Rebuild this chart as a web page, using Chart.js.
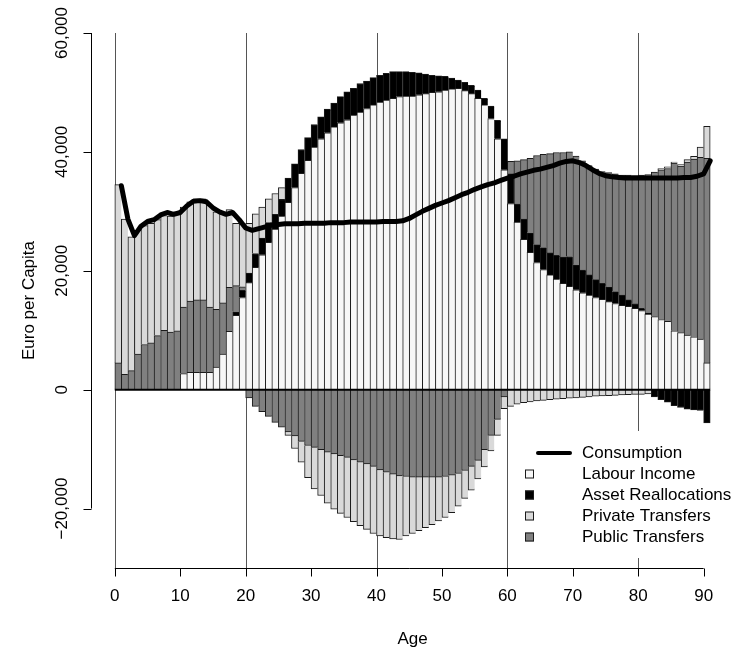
<!DOCTYPE html>
<html>
<head>
<meta charset="utf-8">
<script src="https://cdn.jsdelivr.net/npm/chart.js@4"></script>
<style>
  html, body { margin: 0; padding: 0; background: #fff; }
  #wrap { width: 736px; height: 649px; position: relative; }
</style>
</head>
<body>
<div id="wrap"><canvas id="myChart"></canvas></div>
<script>
// one value per age 0..90
const labourIncome = [
  0, 0, 0, 0, 0, 0, 0, 0, 0, 0,
  2700, 2900, 2900, 2900, 2900, 3800, 6000, 9800, 12500, 15500,
  18000, 20600, 22700, 24800, 27000, 29200, 31500, 34000, 36400, 38600,
  40800, 42200, 43200, 44200, 44900, 45400, 46200, 46700, 47300, 47900,
  48400, 48700, 49000, 49300, 49400, 49400, 49600, 49800, 50000, 50100,
  50400, 50600, 50700, 50300, 49800, 49000, 47900, 45600, 42200, 37000,
  31300, 28200, 25300, 23100, 21400, 20200, 19300, 18600, 17900, 17400,
  16800, 16300, 15900, 15500, 15200, 14800, 14500, 14200, 14000, 13700,
  13300, 12700, 12300, 11800, 11500, 9900, 9600, 9200, 8900, 8500,
  4500
];
const assetReallocations = [
  0, 0, 0, 0, 0, 0, 0, 0, 0, 0,
  0, 0, 0, 0, 0, 0, 0, 0, 600, 1200,
  1600, 2300, 2800, 3300, 2500, 2800, 4100, 4000, 4000, 3800,
  3800, 3700, 4000, 4000, 4400, 4700, 4500, 4800, 4600, 4600,
  4500, 4500, 4500, 4200, 4100, 4000, 3700, 3300, 2900, 2700,
  2300, 1800, 1400, 1400, 1400, 1400, 1100, 2100, 3100, 5200,
  5000, 3000, 3400, 3300, 3000, 3700, 3700, 4000, 4400, 5000,
  4200, 3800, 3400, 3000, 2700, 2500, 2000, 1700, 1100, 800,
  400, 200, -1200, -1700, -2100, -2700, -3000, -3300, -3400, -3500,
  -5600
];
const publicTransfers = [
  4500, 2600, 3200, 6000, 7600, 7900, 9100, 10000, 9700, 9900,
  11200, 12000, 12200, 12200, 11000, 9700, 8600, 7400, 4400, 600,
  -1400, -2800, -3700, -4500, -5500, -6300, -7100, -7800, -8700, -9400,
  -9700, -10100, -10500, -10800, -11100, -11400, -11800, -12200, -12500, -12900,
  -13500, -13900, -14200, -14500, -14600, -14700, -14700, -14700, -14700, -14700,
  -14600, -14400, -14100, -13600, -12900, -11900, -10100, -7700, -5000, -1200,
  2100, 7300, 10000, 12500, 15000, 15700, 16700, 17300, 17600, 17600,
  18300, 18400, 18400, 18600, 18800, 19200, 19800, 20200, 21000, 21500,
  22400, 23300, 24300, 25200, 25700, 28200, 28000, 29100, 29900, 30600,
  34400
];
const privateTransfers = [
  30000, 26100, 22500, 20800, 20000, 20100, 19500, 19300, 19500, 20000,
  16800, 16700, 17000, 17000, 17100, 16400, 15000, 13100, 10500, 10600,
  8400, 6700, 5200, 4000, 3500, 2000, -600, -2100, -3500, -5400,
  -7000, -7700, -8600, -9300, -9700, -10100, -10400, -10700, -11000, -11300,
  -11100, -11000, -10900, -10700, -10000, -9500, -9000, -8500, -8000, -7400,
  -6900, -6300, -5500, -4700, -4000, -3100, -2900, -2600, -2700, -2000,
  -2800, -2450, -2200, -2050, -1900, -1800, -1700, -1600, -1500, -1450,
  -1400, -1300, -1200, -1100, -1050, -1000, -950, -900, -850, -800,
  -780, -700, 0, 200, 300, 200, 250, 400, 450, 1700,
  5400
];
// consumption, plotted at x = 1..91
const consumption = [
  34300, 28700, 25900, 27500, 28300, 28600, 29400, 29800, 29500, 29800,
  30900, 31700, 31800, 31600, 30600, 29900, 29500, 29800, 28600, 27200,
  26800, 27100, 27400, 27700, 27800, 27900, 27900, 27900, 28000, 28000,
  28000, 28000, 28100, 28100, 28100, 28200, 28200, 28200, 28200, 28200,
  28300, 28300, 28300, 28400, 28800, 29400, 30000, 30500, 31000, 31400,
  31800, 32300, 32800, 33200, 33700, 34100, 34500, 34800, 35200, 35600,
  35900, 36300, 36600, 36900, 37100, 37400, 37700, 38100, 38400, 38500,
  38200, 37700, 37000, 36400, 36000, 35800, 35700, 35600, 35600, 35600,
  35600, 35600, 35600, 35600, 35600, 35600, 35700, 35700, 35900, 36300,
  38500
];
const xTicks = [0, 10, 20, 30, 40, 50, 60, 70, 80, 90];
const yTicks = [-20000, 0, 20000, 40000, 60000];
const yTickLabels = ['\u221220,000', '0', '20,000', '40,000', '60,000'];
const gridAges = [0, 20, 40, 60, 80];

const FONT = '17px "Liberation Sans", Arial, Helvetica, sans-serif';
const colors = {
  labour: '#f7f7f7',
  asset: '#000000',
  priv: '#d9d9d9',
  pub: '#808080'
};

function barData(arr) {
  return arr.map((v, i) => ({ x: i + 0.5, y: v === 0 ? null : v }));
}
function barSet(label, arr, color) {
  return {
    type: 'bar',
    label: label,
    data: barData(arr),
    backgroundColor: color,
    borderColor: '#1a1a1a',
    borderWidth: c => ({ left: 1, right: c.dataIndex === arr.length - 1 ? 1 : 0, top: 1, bottom: 1 }),
    borderSkipped: 'start',
    categoryPercentage: 1,
    barPercentage: 1,
    stack: 'b',
    order: 1
  };
}

const legendItems = [
  { label: 'Consumption', line: true },
  { label: 'Labour Income', color: colors.labour },
  { label: 'Asset Reallocations', color: colors.asset },
  { label: 'Private Transfers', color: colors.priv },
  { label: 'Public Transfers', color: colors.pub }
];

const decor = {
  id: 'decor',
  beforeDatasetsDraw(chart) {
    const { ctx, chartArea, scales: { x } } = chart;
    ctx.save();
    ctx.strokeStyle = '#555';
    ctx.lineWidth = 1;
    gridAges.forEach(a => {
      const px = Math.round(x.getPixelForValue(a)) + 0.5;
      ctx.beginPath();
      ctx.moveTo(px, chartArea.top);
      ctx.lineTo(px, chartArea.bottom);
      ctx.stroke();
    });
    ctx.restore();
  },
  afterDatasetsDraw(chart) {
    const { ctx, scales: { x, y } } = chart;
    ctx.save();
    ctx.strokeStyle = '#000';
    ctx.lineWidth = 2;
    const y0 = y.getPixelForValue(0);
    ctx.beginPath();
    ctx.moveTo(x.getPixelForValue(0), y0);
    ctx.lineTo(x.getPixelForValue(labourIncome.length), y0);
    ctx.stroke();
    ctx.restore();
  },
  afterDraw(chart) {
    const { ctx, chartArea, scales: { x, y } } = chart;
    ctx.save();
    ctx.strokeStyle = '#000';
    ctx.fillStyle = '#000';
    ctx.lineWidth = 1;
    ctx.font = FONT;

    // y axis
    const ax = Math.round(chartArea.left) + 0.5;
    ctx.beginPath();
    ctx.moveTo(ax, y.getPixelForValue(yTicks[0]));
    ctx.lineTo(ax, y.getPixelForValue(yTicks[yTicks.length - 1]));
    yTicks.forEach(v => {
      const py = Math.round(y.getPixelForValue(v)) + 0.5;
      ctx.moveTo(ax, py);
      ctx.lineTo(ax - 8, py);
    });
    ctx.stroke();
    ctx.textAlign = 'center';
    ctx.textBaseline = 'middle';
    yTicks.forEach((v, i) => {
      ctx.save();
      ctx.translate(62, y.getPixelForValue(v));
      ctx.rotate(-Math.PI / 2);
      ctx.fillText(yTickLabels[i], 0, 0);
      ctx.restore();
    });
    ctx.save();
    ctx.translate(29, (chartArea.top + chartArea.bottom) / 2);
    ctx.rotate(-Math.PI / 2);
    ctx.fillText('Euro per Capita', 0, 0);
    ctx.restore();

    // x axis
    const ay = Math.round(chartArea.bottom) + 0.5;
    ctx.beginPath();
    ctx.moveTo(x.getPixelForValue(xTicks[0]), ay);
    ctx.lineTo(x.getPixelForValue(xTicks[xTicks.length - 1]), ay);
    xTicks.forEach(v => {
      const px = Math.round(x.getPixelForValue(v)) + 0.5;
      ctx.moveTo(px, ay);
      ctx.lineTo(px, ay + 8);
    });
    ctx.stroke();
    xTicks.forEach(v => ctx.fillText(String(v), x.getPixelForValue(v), 596));
    ctx.fillText('Age', (chartArea.left + chartArea.right) / 2, 639);

    // legend
    ctx.fillStyle = '#fff';
    ctx.fillRect(516, 431, 220, 127);
    ctx.textAlign = 'left';
    legendItems.forEach((it, i) => {
      const ly = 453 + i * 21;
      if (it.line) {
        ctx.strokeStyle = '#000';
        ctx.lineWidth = 4;
        ctx.lineCap = 'round';
        ctx.beginPath();
        ctx.moveTo(538, ly);
        ctx.lineTo(570, ly);
        ctx.stroke();
      } else {
        ctx.fillStyle = it.color;
        ctx.fillRect(525, ly - 4.5, 9, 9);
        ctx.strokeStyle = '#1a1a1a';
        ctx.lineWidth = 1;
        ctx.strokeRect(525.5, ly - 4, 8, 8);
      }
      ctx.fillStyle = '#000';
      ctx.fillText(it.label, 582, ly);
    });
    ctx.restore();
  }
};

const ctx = document.getElementById('myChart').getContext('2d');

const myChart = new Chart(ctx, {
  data: {
    datasets: [
      barSet('Labour Income', labourIncome, colors.labour),
      barSet('Asset Reallocations', assetReallocations, colors.asset),
      barSet('Public Transfers', publicTransfers, colors.pub),
      barSet('Private Transfers', privateTransfers, colors.priv),
      {
        type: 'line',
        label: 'Consumption',
        data: consumption.map((v, i) => ({ x: i + 1, y: v })),
        borderColor: '#000',
        borderWidth: 5,
        pointRadius: 0,
        tension: 0,
        borderJoinStyle: 'round',
        borderCapStyle: 'round',
        stack: 'c',
        order: 0
      }
    ]
  },
  options: {
    responsive: true,
    maintainAspectRatio: false,
    animation: false,
    layout: { padding: { left: 91, right: 2, top: 33, bottom: 81 } },
    plugins: { legend: { display: false }, tooltip: { enabled: false } },
    scales: {
      x: { type: 'linear', offset: false, min: -3.64, max: 94.64, display: false, ticks: { stepSize: 10 } },
      y: { stacked: true, min: -30000, max: 60000, display: false }
    }
  },
  plugins: [decor]
});
</script>
</body>
</html>
